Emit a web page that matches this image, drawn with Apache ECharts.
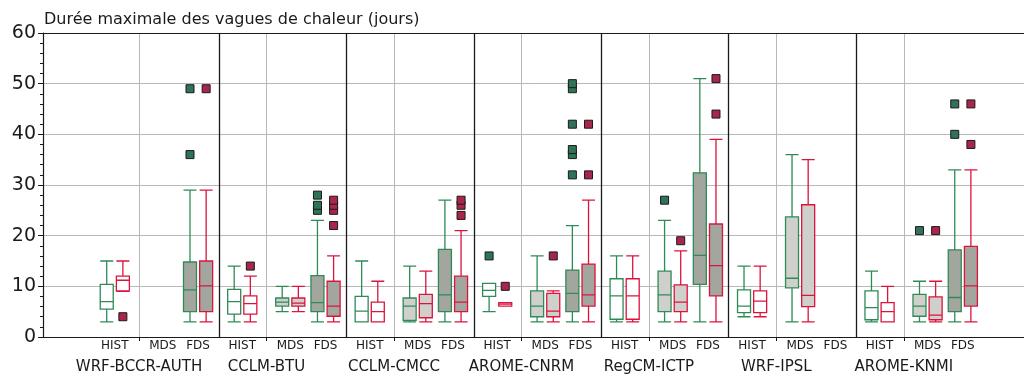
<!DOCTYPE html>
<html><head><meta charset="utf-8">
<script src="https://cdn.jsdelivr.net/npm/echarts@6/dist/echarts.min.js"></script>
<style>html,body{margin:0;padding:0;background:#fff}#c{width:1024px;height:374px}</style>
</head><body><div id="c"></div>
<script>
// ---------------- data ----------------
const chartTitle = 'Durée maximale des vagues de chaleur (jours)';
const models = ['WRF-BCCR-AUTH', 'CCLM-BTU', 'CCLM-CMCC', 'AROME-CNRM', 'RegCM-ICTP', 'WRF-IPSL', 'AROME-KNMI'];
const periods = ['HIST', 'MDS', 'FDS'];
const yRange = [0, 60];
const yStep = 10;

// [min, Q1, median, Q3, max] per model x period (null = no box)
const greenStats = [
  [[3, 5.5, 7, 10.4, 15], null, [3, 5, 9.3, 14.8, 29]],
  [[3, 4.5, 7, 9.4, 14], [5, 6.1, 6.9, 7.7, 10], [3, 5, 6.8, 12.1, 23]],
  [[3, 3, 5.1, 8, 15], [3, 3.3, 6.1, 7.7, 14], [3, 5, 8.3, 17.3, 27]],
  [[5, 8, 9.2, 10.6, 10.6], [3, 4, 6.1, 9.1, 16], [3, 5, 8.6, 13.2, 22]],
  [[3, 3.5, 8.1, 11.5, 16], [3, 5, 8.3, 13, 23], [3, 10.4, 16.1, 32.4, 51]],
  [[4, 4.8, 6.1, 9.3, 14], [3, 9.7, 11.6, 23.7, 36], null],
  [[3, 3.4, 5.8, 9.1, 13], [3, 4.1, 6.1, 8.4, 11], [3, 5, 7.8, 17.2, 33]]
];
const redStats = [
  [[9, 9.1, 11.2, 12, 15], null, [3, 5, 10.1, 15, 29]],
  [[3, 4.5, 6.6, 8.1, 12], [5, 6.1, 6.7, 7.7, 10], [3, 4.1, 6.1, 11, 16]],
  [[3, 3, 5, 6.9, 11], [3, 3.8, 6.6, 8.4, 13], [3, 5, 6.9, 12, 21]],
  [[6.1, 6.1, 6.5, 6.8, 6.8], [3, 4, 5.1, 8.6, 9.1], [3, 6.1, 8.3, 14.4, 27]],
  [[3, 3.5, 8.1, 11.5, 16], [3, 5, 6.9, 10.3, 17], [3, 8.1, 14.1, 22.3, 39]],
  [[4, 4.8, 7.1, 9.1, 14], [3, 6, 8.2, 26.1, 35], null],
  [[3, 3, 5, 6.8, 10], [3, 3.4, 4.3, 7.9, 11], [3, 6.1, 10.1, 17.9, 33]]
];
const greenOutliers = [
  [[], [], [36, 49]],
  [[], [], [25, 26, 28]],
  [[], [], []],
  [[16], [], [32, 36, 37, 42, 49, 50]],
  [[], [27], []],
  [[], [], []],
  [[], [21], [40, 46]]
];
const redOutliers = [
  [[4], [], [49]],
  [[14], [], [22, 25, 26, 27]],
  [[], [], [24, 26, 27]],
  [[10], [16], [32, 42]],
  [[], [19], [44, 51]],
  [[], [], []],
  [[], [21], [38, 46]]
];

// ---------------- layout / style ----------------
const MODEL_STEP = 3;
const PERIOD_OFFSET = [-0.57, 0.56, 1.39];
const SEPARATOR_OFFSET = 1.883;
const PAIR_HALF = 0.19;
const X_MIN = -2.26, X_MAX = 20.83;
const GREEN = '#2e8b57', RED = '#dc143c';
const GREEN_FLIER = '#2f7358', RED_FLIER = '#a8264c';
const FILLS = ['#ffffff', '#cfd0cc', '#a3a59f'];
const INK = '#1a1a1a';
const GRIDC = '#b8b8b8';
const FONT = 'DejaVu Sans';

const modelPos = models.map((m, k) => k * MODEL_STEP);
const periodPos = (k, p) => modelPos[k] + PERIOD_OFFSET[p];
const separators = models.slice(0, -1).map((m, k) => modelPos[k] + SEPARATOR_OFFSET);
const labelPos = [];
const labelText = {};
models.forEach((m, k) => periods.forEach((pn, p) => {
  const v = periodPos(k, p);
  labelPos.push(v);
  labelText[v.toFixed(4)] = pn;
}));
const modelText = {};
modelPos.forEach((v, k) => { modelText[v.toFixed(4)] = models[k]; });

function boxData(stats, side) {
  const out = [];
  stats.forEach((row, k) => row.forEach((s, p) => {
    if (!s) return;
    out.push({ value: [periodPos(k, p) + side * PAIR_HALF].concat(s), itemStyle: { color: FILLS[p] } });
  }));
  return out;
}
function flierData(fl, side) {
  const out = [];
  fl.forEach((row, k) => row.forEach((vals, p) => vals.forEach(v => {
    out.push([periodPos(k, p) + side * PAIR_HALF, v]);
  })));
  return out;
}

const chart = echarts.init(document.getElementById('c'), null, { renderer: 'canvas' });
const baseX = { type: 'value', min: X_MIN, max: X_MAX, gridIndex: 0 };
chart.setOption({
  animation: false,
  backgroundColor: '#fff',
  textStyle: { fontFamily: FONT },
  title: {
    text: chartTitle, left: 44, top: 12, padding: 0,
    textStyle: { fontSize: 16, fontWeight: 'normal', color: INK, fontFamily: FONT }
  },
  grid: { left: 43, right: 0, top: 33, bottom: 37, containLabel: false, outerBoundsMode: 'none' },
  xAxis: [
    Object.assign({}, baseX, {
      position: 'bottom',
      axisLine: { show: true, onZero: false, lineStyle: { color: INK, width: 1.2 } },
      axisTick: { show: true, customValues: modelPos, length: 4, lineStyle: { color: INK } },
      splitLine: { show: true, lineStyle: { color: GRIDC, width: 1 } },
      minorTick: { show: false },
      axisLabel: {
        show: true, customValues: labelPos, fontSize: 12, color: INK, margin: 3, fontFamily: FONT,
        formatter: v => labelText[Number(v).toFixed(4)] || ''
      }
    }),
    Object.assign({}, baseX, {
      position: 'top',
      axisLine: { show: true, onZero: false, lineStyle: { color: INK, width: 1.2 } },
      axisTick: { show: false }, axisLabel: { show: false }, splitLine: { show: false }
    }),
    Object.assign({}, baseX, {
      position: 'bottom', offset: 19,
      axisLine: { show: false, onZero: false }, axisTick: { show: false }, splitLine: { show: false },
      axisLabel: {
        show: true, customValues: modelPos, fontSize: 15, color: INK, margin: 4, fontFamily: FONT,
        formatter: v => modelText[Number(v).toFixed(4)] || ''
      }
    })
  ],
  yAxis: {
    type: 'value', min: yRange[0], max: yRange[1], interval: yStep,
    axisLine: { show: true, onZero: false, lineStyle: { color: INK, width: 1.2 } },
    axisTick: { show: true, length: 5, lineStyle: { color: INK } },
    minorTick: { show: true, splitNumber: 5, length: 3, lineStyle: { color: INK } },
    splitLine: { show: true, lineStyle: { color: GRIDC, width: 1 } },
    axisLabel: { fontSize: 19, color: INK, margin: 7, fontFamily: FONT }
  },
  series: [
    {
      type: 'boxplot', name: 'green', xAxisIndex: 0, yAxisIndex: 0,
      boxWidth: [13, 13],
      itemStyle: { borderColor: GREEN, borderWidth: 1.3 },
      emphasis: { disabled: true },
      data: boxData(greenStats, -1),
      markLine: {
        silent: true, symbol: ['none', 'none'], label: { show: false },
        lineStyle: { color: INK, width: 1.3, type: 'solid' },
        emphasis: { disabled: true },
        data: separators.map(v => ({ xAxis: v }))
      }
    },
    {
      type: 'boxplot', name: 'red', xAxisIndex: 1, yAxisIndex: 0,
      boxWidth: [13, 13],
      itemStyle: { borderColor: RED, borderWidth: 1.3 },
      emphasis: { disabled: true },
      data: boxData(redStats, 1)
    },
    {
      type: 'scatter', xAxisIndex: 0, yAxisIndex: 0, symbol: 'rect', symbolSize: 8, z: 5,
      itemStyle: { color: GREEN_FLIER, borderColor: INK, borderWidth: 1, opacity: 1 },
      emphasis: { disabled: true },
      data: flierData(greenOutliers, -1)
    },
    {
      type: 'scatter', xAxisIndex: 1, yAxisIndex: 0, symbol: 'rect', symbolSize: 8, z: 5,
      itemStyle: { color: RED_FLIER, borderColor: INK, borderWidth: 1, opacity: 1 },
      emphasis: { disabled: true },
      data: flierData(redOutliers, 1)
    }
  ]
});
</script>
</body></html>
